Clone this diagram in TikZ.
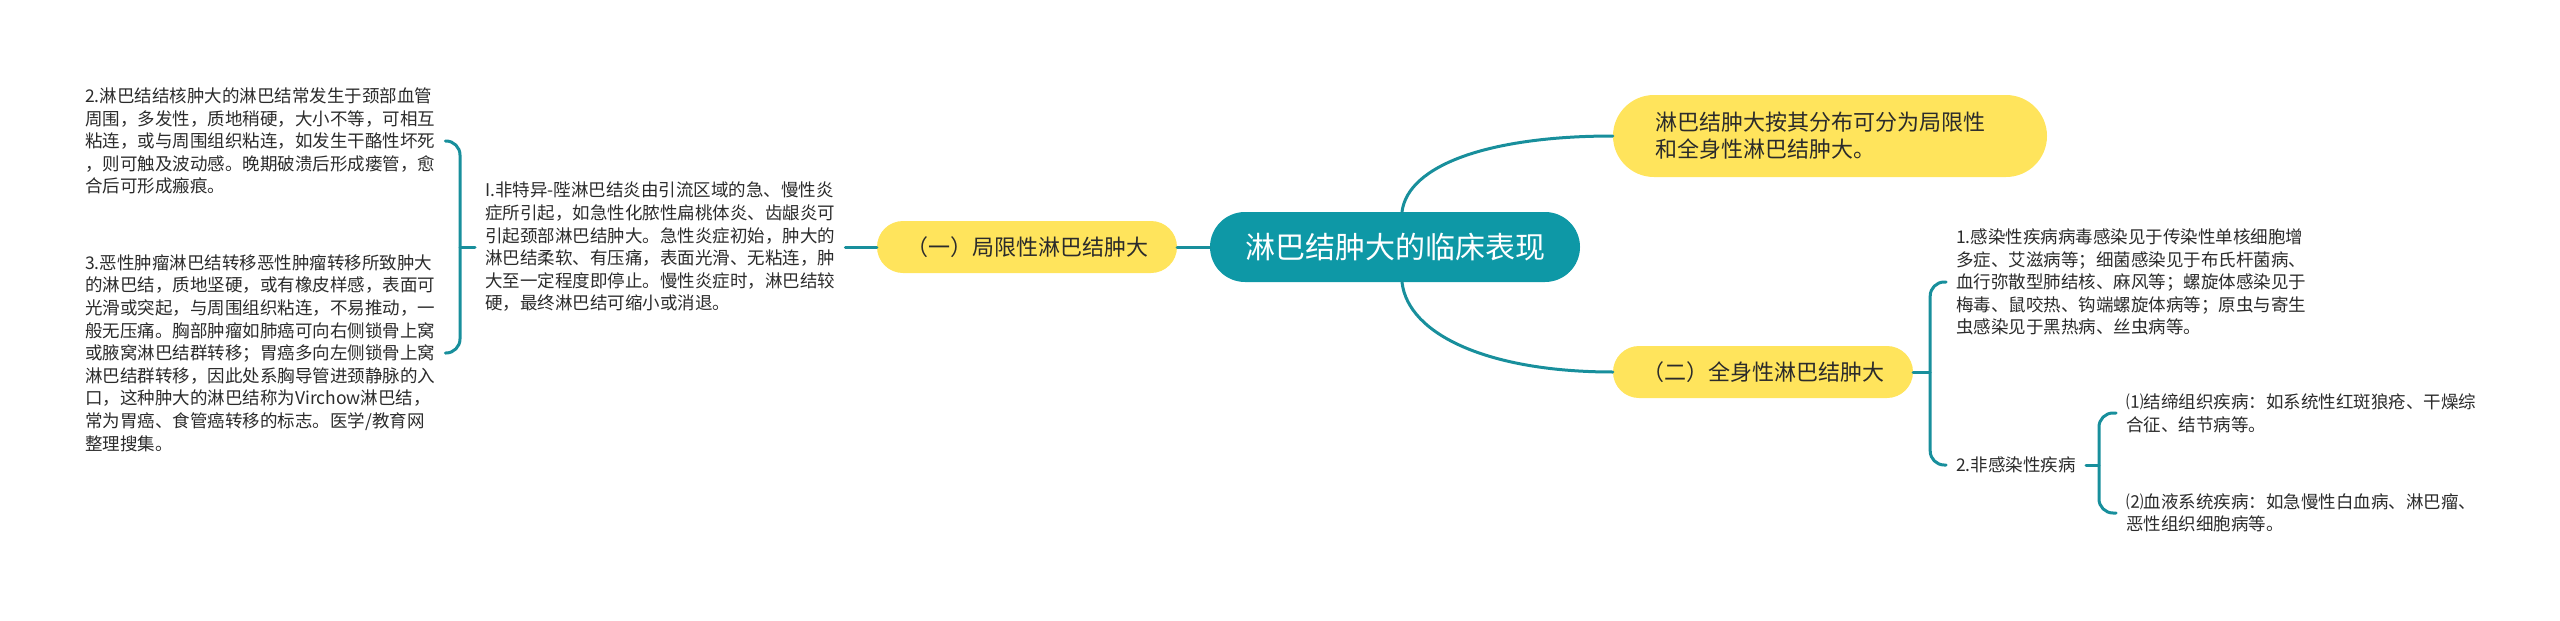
\documentclass[tikz,border=0pt]{standalone}
\usepackage{fontspec}
\setmainfont{Noto Sans CJK SC}
\usetikzlibrary{positioning}

\definecolor{rootteal}{RGB}{14,152,166}
\definecolor{linkteal}{RGB}{24,143,156}
\definecolor{topicyellow}{RGB}{255,228,92}
\definecolor{textdark}{RGB}{43,43,43}

\begin{document}
\begin{tikzpicture}[x=1pt, y=-1pt,
    rootbox/.style={fill=rootteal, text=white, rounded corners=35pt, minimum width=370pt, minimum height=70pt, inner sep=0pt, font=\fontsize{30}{36}\selectfont},
    topicbox/.style={fill=topicyellow, text=textdark, rounded corners=26pt, minimum width=300pt, minimum height=52pt, inner sep=0pt, font=\fontsize{22}{27}\selectfont},
    leaftext/.style={inner xsep=10pt, inner ysep=0pt, align=left, text=textdark, anchor=west, font=\fontsize{17.5}{22.6}\selectfont},
    link/.style={draw=linkteal, line width=3pt, line cap=round}]
    \useasboundingbox (0,0) rectangle (2560,621);

    % centre and main branches
    \node[rootbox] (root) at (1395,247) {淋巴结肿大的临床表现};
    \node[topicbox] (local) at (1027,247) {（一）局限性淋巴结肿大};
    \node[topicbox] (general) at (1763,372) {（二）全身性淋巴结肿大};
    \node[topicbox, rounded corners=41pt, minimum height=82pt, text width=350pt, inner xsep=42pt, align=left] (intro) at (1830,136)
        {淋巴结肿大按其分布可分为局限性\\和全身性淋巴结肿大。};

    % left side
    \node[leaftext] (nonspec) at (475,247) {I.非特异-陛淋巴结炎由引流区域的急、慢性炎\\症所引起，如急性化脓性扁桃体炎、齿龈炎可\\引起颈部淋巴结肿大。急性炎症初始，肿大的\\淋巴结柔软、有压痛，表面光滑、无粘连，肿\\大至一定程度即停止。慢性炎症时，淋巴结较\\硬，最终淋巴结可缩小或消退。};
    \node[leaftext] (tuber) at (75,141) {2.淋巴结结核肿大的淋巴结常发生于颈部血管\\周围，多发性，质地稍硬，大小不等，可相互\\粘连，或与周围组织粘连，如发生干酪性坏死\\，则可触及波动感。晚期破溃后形成瘘管，愈\\合后可形成瘢痕。};
    \node[leaftext] (tumor) at (75,353) {3.恶性肿瘤淋巴结转移恶性肿瘤转移所致肿大\\的淋巴结，质地坚硬，或有橡皮样感，表面可\\光滑或突起，与周围组织粘连，不易推动，一\\般无压痛。胸部肿瘤如肺癌可向右侧锁骨上窝\\或腋窝淋巴结群转移；胃癌多向左侧锁骨上窝\\淋巴结群转移，因此处系胸导管进颈静脉的入\\口，这种肿大的淋巴结称为Virchow淋巴结，\\常为胃癌、食管癌转移的标志。医学/教育网\\整理搜集。};

    % right side
    \node[leaftext] (infect) at (1946,282) {1.感染性疾病病毒感染见于传染性单核细胞增\\多症、艾滋病等；细菌感染见于布氏杆菌病、\\血行弥散型肺结核、麻风等；螺旋体感染见于\\梅毒、鼠咬热、钩端螺旋体病等；原虫与寄生\\虫感染见于黑热病、丝虫病等。};
    \node[leaftext] (noninf) at (1946,465) {2.非感染性疾病};
    \node[leaftext] (connect) at (2116,413) {⑴结缔组织疾病：如系统性红斑狼疮、干燥综\\合征、结节病等。};
    \node[leaftext] (blood) at (2116,513) {⑵血液系统疾病：如急慢性白血病、淋巴瘤、\\恶性组织细胞病等。};

    \coordinate (lb) at ([xshift=-15pt]nonspec.west);
    \coordinate (rb) at ([xshift=17pt]general.east);
    \coordinate (rb2) at ([xshift=13pt]noninf.east);

    \draw[link] (root.west) -- (local.east);
    \draw[link] (local.west) -- (nonspec.east);
    \draw[link] (nonspec.west) -- (lb);
    \draw[link, rounded corners=14pt] (tuber.east) -| (lb) |- (tumor.east);

    \draw[link] ([xshift=7pt]root.north) .. controls +(6,-47) and +(-123,0) .. (intro.west);
    \draw[link] ([xshift=7pt]root.south) .. controls +(6,53) and +(-123,0) .. (general.west);
    \draw[link] (general.east) -- (rb);
    \draw[link, rounded corners=14pt] (infect.west) -| (rb) |- (noninf.west);
    \draw[link] (noninf.east) -- (rb2);
    \draw[link, rounded corners=14pt] (connect.west) -| (rb2) |- (blood.west);
\end{tikzpicture}
\end{document}
